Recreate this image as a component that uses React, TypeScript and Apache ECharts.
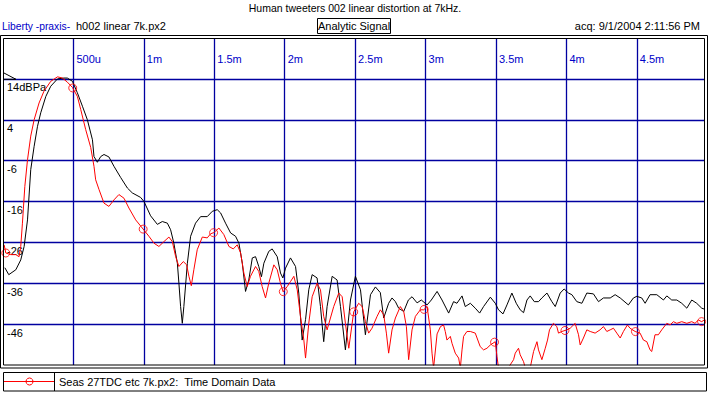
import React, { useEffect, useRef } from "react";
import * as echarts from "echarts";

// ---- data (time in ms, level in dB) ----
const blackT = [0.013,0.041,0.091,0.126,0.150,0.174,0.197,0.221,0.245,0.268,0.304,0.339,0.387,0.433,0.457,0.493,0.528,0.564,0.599,0.635,0.646,0.670,0.694,0.717,0.752,0.788,0.835,0.883,0.918,0.977,1.001,1.048,1.096,1.131,1.167,1.190,1.213,1.238,1.249,1.261,1.273,1.284,1.309,1.332,1.367,1.403,1.450,1.486,1.521,1.545,1.580,1.616,1.651,1.675,1.699,1.722,1.745,1.770,1.793,1.816,1.835,1.852,1.887,1.911,1.947,1.970,1.987,2.006,2.041,2.077,2.100,2.124,2.148,2.171,2.195,2.230,2.254,2.277,2.301,2.337,2.372,2.396,2.431,2.467,2.502,2.538,2.573,2.609,2.644,2.679,2.703,2.738,2.762,2.786,2.809,2.845,2.878,2.904,2.940,2.970,3.011,3.041,3.082,3.117,3.164,3.199,3.223,3.259,3.282,3.318,3.353,3.384,3.412,3.460,3.495,3.518,3.550,3.578,3.613,3.644,3.672,3.696,3.720,3.743,3.772,3.802,3.826,3.862,3.897,3.921,3.956,3.984,4.015,4.039,4.074,4.110,4.145,4.192,4.228,4.263,4.311,4.346,4.382,4.440,4.476,4.500,4.535,4.559,4.594,4.642,4.689,4.713,4.748,4.784,4.819,4.855,4.890,4.925,4.961,4.977];
const blackV = [-32.2,-33.9,-32.7,-30.3,-27.0,-20.5,-8.2,-2.5,2.4,5.7,9.7,12.2,14.0,14.2,14.2,13.4,10.6,7.3,4.0,-0.9,-5.0,-6.4,-5.0,-4.5,-5.1,-7.4,-10.1,-12.7,-13.9,-15.0,-16.0,-19.5,-21.6,-20.9,-21.3,-22.9,-26.2,-31.1,-36.0,-41.7,-45.8,-41.7,-31.1,-24.5,-21.3,-19.7,-19.7,-18.4,-18.0,-18.8,-21.3,-23.7,-24.5,-26.2,-31.1,-38.0,-35.2,-29.8,-29.5,-31.9,-34.4,-31.1,-28.2,-27.6,-29.5,-33.5,-34.7,-32.3,-29.8,-31.9,-38.4,-49.9,-44.9,-37.6,-33.9,-34.7,-41.7,-50.3,-41.7,-34.3,-35.2,-41.7,-52.3,-40.1,-34.3,-37.6,-48.6,-38.8,-36.9,-38.3,-44.5,-40.9,-39.6,-40.5,-42.1,-42.9,-40.1,-39.3,-40.8,-40.1,-41.3,-40.1,-38.0,-40.1,-43.3,-40.5,-40.9,-39.1,-41.7,-40.9,-42.1,-43.3,-41.7,-39.4,-40.9,-42.5,-43.5,-41.3,-38.4,-40.9,-42.5,-43.2,-40.1,-39.1,-40.5,-40.5,-39.6,-38.4,-40.5,-41.7,-38.4,-37.4,-38.4,-38.8,-40.5,-40.9,-38.4,-38.6,-40.5,-39.6,-39.6,-38.8,-39.6,-41.3,-39.6,-39.2,-39.6,-40.9,-38.8,-38.8,-40.1,-39.1,-40.1,-40.1,-40.9,-42.1,-40.1,-40.9,-42.1,-42.3];

const redT = [0.008,0.020,0.055,0.091,0.114,0.126,0.138,0.155,0.174,0.197,0.221,0.256,0.291,0.339,0.387,0.422,0.457,0.493,0.528,0.552,0.587,0.623,0.646,0.658,0.682,0.717,0.752,0.788,0.823,0.859,0.894,0.942,0.989,1.036,1.072,1.107,1.143,1.178,1.202,1.226,1.249,1.280,1.304,1.320,1.337,1.355,1.379,1.415,1.450,1.474,1.497,1.533,1.568,1.604,1.635,1.663,1.687,1.710,1.734,1.757,1.793,1.816,1.840,1.864,1.887,1.923,1.947,1.970,1.989,2.018,2.041,2.065,2.089,2.112,2.136,2.148,2.171,2.195,2.230,2.254,2.277,2.301,2.348,2.384,2.408,2.431,2.455,2.479,2.490,2.525,2.550,2.573,2.596,2.620,2.656,2.679,2.703,2.722,2.738,2.762,2.786,2.821,2.845,2.864,2.880,2.904,2.928,2.963,2.987,3.011,3.034,3.046,3.057,3.082,3.106,3.128,3.140,3.152,3.176,3.188,3.211,3.235,3.247,3.259,3.270,3.294,3.318,3.353,3.388,3.412,3.436,3.460,3.495,3.507,3.518,3.554,3.587,3.625,3.637,3.660,3.672,3.696,3.708,3.743,3.767,3.791,3.802,3.826,3.850,3.866,3.880,3.908,3.932,3.944,3.968,4.004,4.027,4.062,4.086,4.098,4.121,4.145,4.169,4.204,4.239,4.263,4.287,4.311,4.334,4.358,4.382,4.405,4.433,4.452,4.488,4.523,4.547,4.571,4.594,4.606,4.629,4.653,4.677,4.713,4.736,4.760,4.784,4.819,4.855,4.890,4.913,4.937,4.961,4.977];
const redV = [-26.6,-28.6,-29.0,-29.0,-29.5,-27.0,-21.3,-12.3,-5.8,0.0,4.0,8.1,11.0,13.4,14.5,14.2,13.2,11.9,9.7,6.5,1.6,-2.8,-7.4,-10.7,-13.1,-16.4,-17.2,-15.6,-14.3,-15.2,-17.6,-20.5,-22.5,-24.5,-26.2,-27.0,-25.8,-24.7,-25.8,-29.5,-31.9,-30.7,-31.5,-34.3,-36.6,-32.7,-27.8,-24.7,-24.9,-23.9,-23.6,-22.5,-24.1,-27.0,-27.6,-26.6,-28.6,-33.5,-36.8,-34.3,-31.9,-33.1,-36.8,-39.6,-36.0,-31.5,-32.7,-36.0,-38.1,-36.8,-35.6,-34.3,-37.6,-44.1,-49.9,-54.3,-45.8,-39.3,-36.0,-37.6,-44.1,-47.4,-41.7,-38.4,-39.3,-45.8,-51.9,-45.8,-43.0,-40.9,-41.7,-45.4,-48.2,-47.0,-44.1,-42.5,-43.7,-48.2,-53.1,-47.4,-44.5,-41.7,-42.9,-46.6,-54.7,-47.4,-44.1,-42.5,-42.5,-41.7,-47.4,-53.1,-56.7,-48.4,-46.6,-46.2,-47.8,-49.9,-49.0,-50.7,-53.1,-54.3,-56.7,-52.3,-49.0,-47.8,-47.8,-48.2,-51.5,-52.3,-51.9,-51.1,-50.3,-53.9,-56.7,-57.2,-56.7,-54.7,-53.1,-51.9,-53.5,-55.2,-56.7,-56.7,-52.7,-50.3,-52.3,-54.7,-51.9,-49.9,-47.4,-45.8,-46.6,-48.2,-47.8,-47.4,-47.0,-45.8,-48.6,-51.1,-49.4,-47.4,-47.8,-48.2,-47.4,-46.6,-47.8,-47.4,-47.0,-48.2,-49.4,-47.8,-46.2,-47.0,-47.8,-48.2,-49.9,-50.3,-52.3,-52.7,-48.6,-48.6,-47.4,-45.8,-46.2,-45.4,-45.8,-45.4,-45.8,-45.4,-45.8,-45.0,-45.4,-45.0];

// marker times on the red trace
const markerT = [0.02, 0.495, 0.995, 1.495, 1.99, 2.49, 2.99, 3.49, 3.99, 4.49, 4.96];

// tick labels
const xTickLabels = ["", "500u", "1m", "1.5m", "2m", "2.5m", "3m", "3.5m", "4m", "4.5m"];
const yTopLabel = "14dBPa";

const titleText = "Human tweeters 002 linear distortion at 7kHz.";
const leftBlue = "Liberty -praxis-";
const leftBlack = "h002 linear 7k.px2";
const centerBox = "Analytic Signal";
const rightText = "acq: 9/1/2004 2:11:56 PM";
const legendText = "Seas 27TDC etc 7k.px2:  Time Domain Data";

const FONT = "'Liberation Sans', Arial, sans-serif";
const GRID = "#0000a0";
const BLUE = "#0000c8";

function interp(ts: number[], vs: number[], t: number) {
  for (let i = 0; i < ts.length - 1; i++) {
    if (t >= ts[i] && t <= ts[i + 1]) {
      const f = (t - ts[i]) / (ts[i + 1] - ts[i]);
      return vs[i] + f * (vs[i + 1] - vs[i]);
    }
  }
  return vs[vs.length - 1];
}

export default function App() {
  const ref = useRef<HTMLDivElement>(null);
  useEffect(() => {
    if (!ref.current) return;
    const chart = echarts.init(ref.current, undefined, { renderer: "svg" });
    const black = blackT.map((t, i) => [t, blackV[i]]);
    const red = redT.map((t, i) => [t, redV[i]]);
    const markers = markerT.map((t) => [t, interp(redT, redV, t)]);
    chart.setOption({
      animation: false,
      backgroundColor: "#ffffff",
      textStyle: { fontFamily: FONT },
      grid: { left: 2.2, top: 38, width: 701.8, height: 327, containLabel: false },
      xAxis: {
        type: "value",
        position: "top",
        min: 0,
        max: 4.977,
        interval: 0.5,
        axisLine: { show: false },
        axisTick: { show: false },
        splitLine: { show: true, showMinLine: false, showMaxLine: false, lineStyle: { color: GRID, width: 1.3 } },
        axisLabel: {
          inside: true,
          margin: 15,
          align: "left",
          verticalAlign: "top",
          color: BLUE,
          fontSize: 11,
          fontFamily: FONT,
          padding: [0, 0, 0, 3],
          showMinLabel: true,
          showMaxLabel: true,
          formatter: (v: number) => {
            const k = Math.round(v * 2);
            if (Math.abs(v * 2 - k) > 1e-6) return "";
            return xTickLabels[k] ?? "";
          },
        },
      },
      yAxis: {
        type: "value",
        min: -56,
        max: 24,
        interval: 10,
        axisLine: { show: false },
        axisTick: { show: false },
        splitLine: { show: true, showMinLine: false, showMaxLine: false, lineStyle: { color: GRID, width: 1.3 } },
        axisLabel: {
          inside: true,
          margin: 4,
          align: "left",
          verticalAlign: "top",
          padding: [3, 0, 0, 0],
          color: "#000",
          fontSize: 11,
          fontFamily: FONT,
          formatter: (v: number) => {
            if (v <= -56 || v >= 24) return "";
            if (v === 14) return yTopLabel;
            return String(v);
          },
        },
      },
      series: [
        {
          type: "line",
          data: black,
          showSymbol: false,
          lineStyle: { color: "#000", width: 1 },
          clip: true,
          z: 2,
        },
        {
          type: "line",
          data: red,
          showSymbol: false,
          lineStyle: { color: "#ff0000", width: 1 },
          clip: true,
          z: 3,
        },
        {
          type: "scatter",
          data: markers,
          symbol: "circle",
          symbolSize: 8,
          itemStyle: { color: "rgba(0,0,0,0)", borderColor: "#ff0000", borderWidth: 1 },
          clip: true,
          z: 4,
        },
      ],
      graphic: [
        { type: "text", x: 355, y: 8, z: 100, style: { text: titleText, font: `10.5px ${FONT}`, fill: "#000", align: "center", verticalAlign: "middle" } },
        { type: "text", x: 2, y: 26, z: 100, style: { text: leftBlue, font: `10.3px ${FONT}`, fill: BLUE, verticalAlign: "middle" } },
        { type: "text", x: 76, y: 26, z: 100, style: { text: leftBlack, font: `11px ${FONT}`, fill: "#000", verticalAlign: "middle" } },
        { type: "rect", z: 100, shape: { x: 317.5, y: 18.5, width: 73, height: 15 }, style: { fill: "#fff", stroke: "#000", lineWidth: 1 } },
        { type: "text", x: 354, y: 26, z: 101, style: { text: centerBox, font: `11px ${FONT}`, fill: "#000", align: "center", verticalAlign: "middle" } },
        { type: "text", x: 700, y: 26, z: 100, style: { text: rightText, font: `11px ${FONT}`, fill: "#000", align: "right", verticalAlign: "middle" } },
        // plot frame (double line)
        { type: "rect", z: 100, shape: { x: 0.5, y: 35.5, width: 707, height: 332.5 }, style: { fill: "none", stroke: "#000", lineWidth: 1 } },
        { type: "rect", z: 100, shape: { x: 3.5, y: 38.5, width: 701, height: 326.5 }, style: { fill: "none", stroke: "#000", lineWidth: 1 } },
        // reference level marker
        { type: "polyline", z: 100, shape: { points: [[4, 73], [16, 79.3], [4, 79.3]] }, style: { fill: "none", stroke: "#000", lineWidth: 1 } },
        // legend
        { type: "rect", z: 100, shape: { x: 3.5, y: 372.5, width: 703, height: 18.5 }, style: { fill: "#fff", stroke: "#000", lineWidth: 1 } },
        { type: "line", z: 101, shape: { x1: 54.5, y1: 372.5, x2: 54.5, y2: 391 }, style: { stroke: "#000", lineWidth: 1 } },
        { type: "line", z: 101, shape: { x1: 4, y1: 381.5, x2: 54, y2: 381.5 }, style: { stroke: "#ff0000", lineWidth: 1 } },
        { type: "circle", z: 101, shape: { cx: 29.5, cy: 381.5, r: 3.5 }, style: { fill: "none", stroke: "#ff0000", lineWidth: 1 } },
        { type: "text", x: 59, y: 382, z: 101, style: { text: legendText, font: `11px ${FONT}`, fill: "#000", verticalAlign: "middle" } },
      ],
    });
    return () => chart.dispose();
  }, []);
  return <div ref={ref} style={{ width: 709, height: 395, position: "absolute", left: 0, top: 0 }} />;
}
